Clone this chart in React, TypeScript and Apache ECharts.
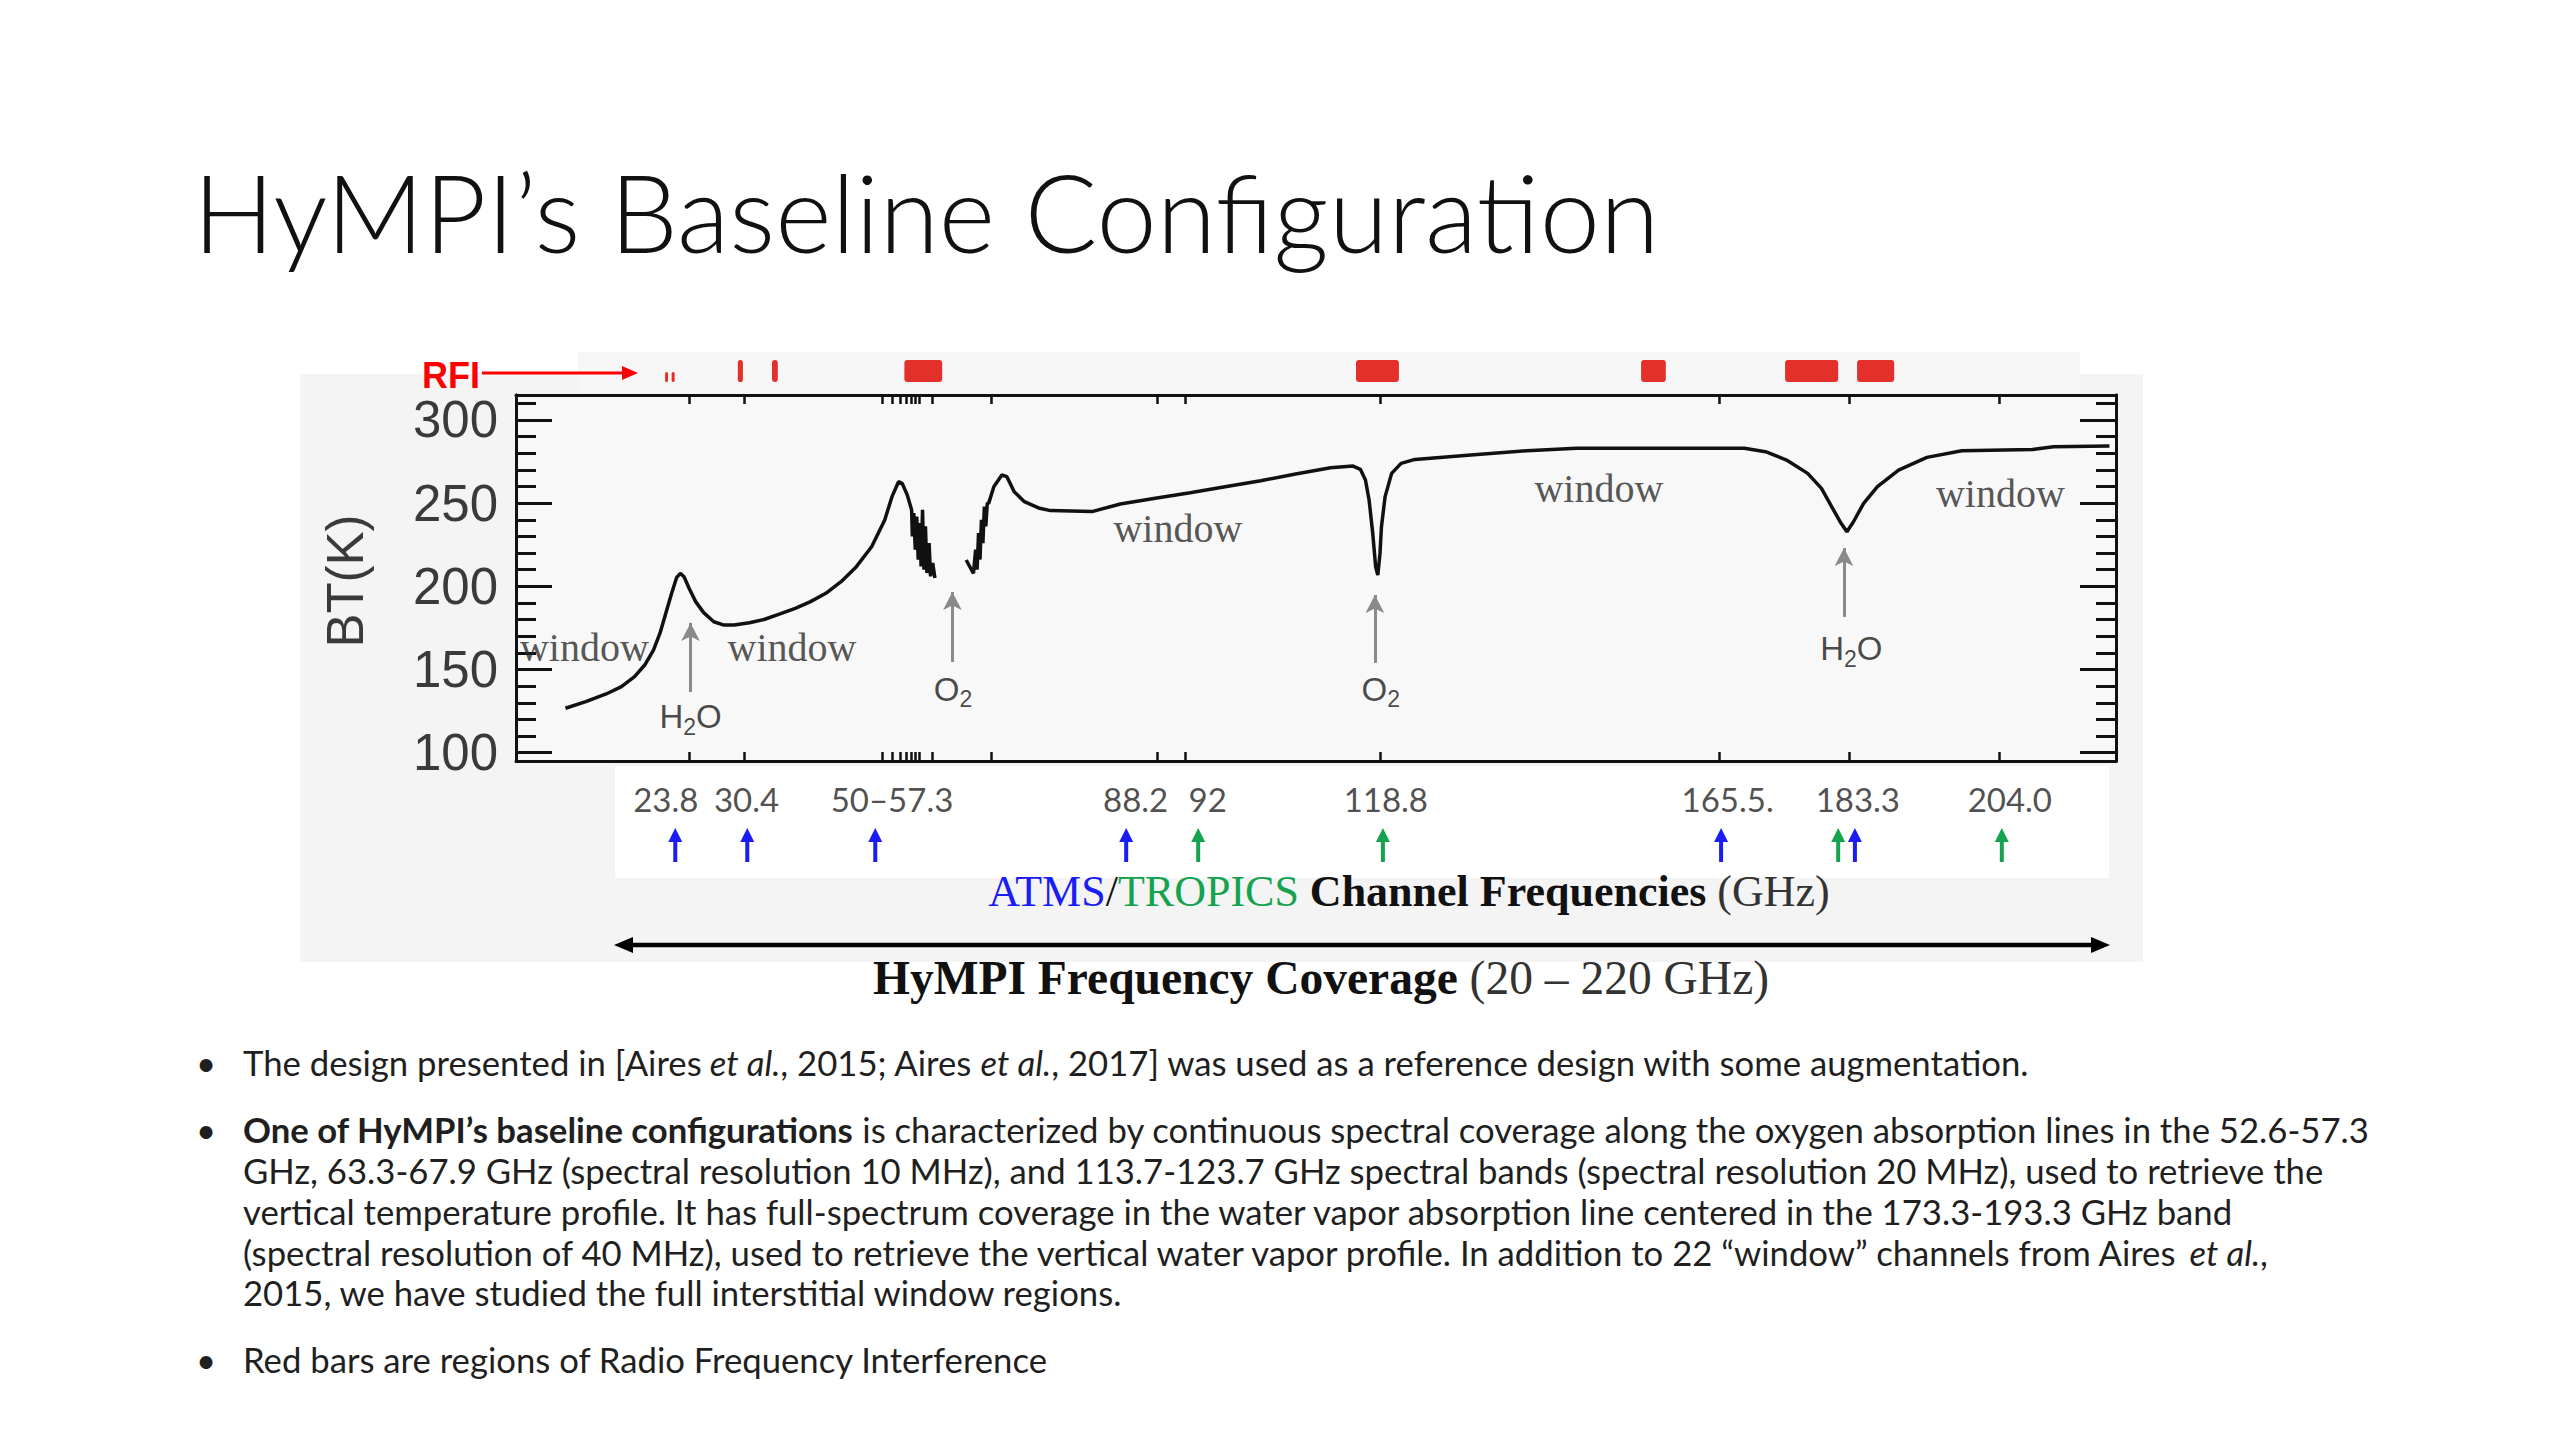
import React, { useEffect, useRef } from "react";
import * as echarts from "echarts";

// ---------- data ----------
// brightness-temperature spectrum (GHz, K); "-" = gap in the O2 band
const freqGHz = [
  6.8, 9.6, 12.4, 14.5, 16.3, 17.7, 18.9, 19.8, 20.6, 21.4, 22.1, 22.6, 23.1, 23.8, 24.7, 25.8, 27.2, 28.6, 30.0,
  32.1, 34.2, 36.3, 38.4, 40.5, 42.6, 44.7, 46.8, 48.9, 50.7, 51.7, 52.6, 53.1, 53.8, 54.4,
  54.5, 54.7, 54.9, 55.1, 55.3, 55.5, 55.7, 55.9, 56.1, 56.3, 56.5, 56.8, 57.0, 57.3, 57.6,
  59.8,
  61.9, 62.9, 63.2, 63.4, 63.6, 63.8, 64.0, 64.2, 64.4, 64.6, 64.8, 65.0, 65.7, 66.8, 67.5, 68.5, 69.9, 72.0, 73.5,
  79.2, 83.1, 87.9, 92.7, 97.5, 102.4, 107.2, 112.0, 115.1, 116.1, 116.8, 117.3, 117.8, 118.2, 118.5, 118.8,
  119.0, 119.5, 120.4, 121.7, 123.6, 131.3, 139.0, 145.8, 168.9, 171.8, 174.7, 177.6, 179.5, 180.9, 182.2,
  183.0, 183.9, 185.3, 187.2, 190.1, 194.0, 198.8, 208.5, 211.4, 219.1,
];
const btK: (number | string)[] = [
  126.7, 130.7, 135.3, 139.7, 145.7, 152.7, 161.7, 171.8, 183.8, 195.8, 205.4, 207.8, 205.8, 198.8, 190.8, 184.2,
  178.7, 176.7, 176.7, 178.1, 180.2, 183.4, 186.8, 190.8, 195.8, 202.8, 211.8, 223.8, 239.9, 253.9, 262.9, 261.9,
  254.9, 245.9,
  230, 244, 222, 242, 216, 238, 212, 246, 210, 236, 208, 226, 206, 214, 205,
  "-",
  215.8, 207.8, 222, 210, 232, 216, 240, 226, 248, 236, 250, 250, 259.9, 266.9, 265.9, 256.9, 250.9, 246.9, 245.5,
  244.9, 249.5, 252.9, 256.3, 259.9, 263.5, 267.5, 271.3, 272.3, 270.3, 263.9, 251.9, 231.9, 211.8, 206.8, 219.8,
  235.8, 253.9, 267.9, 273.9, 276.3, 278.9, 281.5, 283.0, 283.0, 280.9, 275.9, 267.9, 258.9, 247.9, 237.9,
  232.8, 238.8, 249.9, 259.9, 269.9, 277.5, 281.5, 282.3, 283.9, 284.3,
];

// frame ticks
const xTicks = [23.8, 31.4, 50.3, 51.76, 52.8, 53.596, 54.4, 54.94, 55.5, 57.29, 65.4, 88.2, 92, 118.8, 165.5, 183.3, 204];
const yMajorTicks = [100, 150, 200, 250, 300];
const yMinorTicks = [110, 120, 130, 140, 160, 170, 180, 190, 210, 220, 230, 240, 260, 270, 280, 290, 310];

// "window" annotations (GHz, K)
const windowFreq = [9.4, 37.95, 91.0, 148.9, 204.1];
const windowBT = [163.5, 163, 235, 259, 256];

// absorption-line annotations
const moleculeNames = ["H2O", "O2", "O2", "H2O"];
const moleculeFreq = [24.0, 60.1, 118.9, 183.6];
const moleculeBT = [121.5, 138, 138, 162.5];
const lineArrowFreq = [24.0, 60.0, 118.1, 182.6];
const lineArrowFrom = [136.5, 154.5, 154, 181.6];
const lineArrowTo = [178, 196.6, 194.8, 223];

// RFI bands [start GHz, end GHz, relative height]
const rfiBands = [
  [20.5, 20.9, 0.45],
  [21.4, 21.8, 0.45],
  [30.5, 31.2, 1],
  [35.2, 36.0, 1],
  [53.4, 58.6, 1],
  [115.5, 121.4, 1],
  [154.7, 158.1, 1],
  [174.5, 181.8, 1],
  [184.4, 189.5, 1],
];

// channel frequency row
const channelLabels = ["23.8", "30.4", "50–57.3", "88.2", "92", "118.8", "165.5.", "183.3", "204.0"];
const channelLabelPos = [20.6, 31.7, 51.7, 85.2, 95.1, 119.6, 166.6, 184.5, 205.4];
const atmsArrows = [21.9, 31.8, 49.4, 83.9, 165.7, 184.1];
const tropicsArrows = [93.8, 119.2, 181.8, 204.3];

const bulletLines = [
  { y: 1062, bullet: true, text: "The design presented in [Aires{i| et al.}, 2015; Aires{i| et al.}, 2017] was used as a reference design with some augmentation." },
  { y: 1129, bullet: true, text: "{b|One of HyMPI’s baseline configurations} is characterized by continuous spectral coverage along the oxygen absorption lines in the 52.6-57.3" },
  { y: 1170, bullet: false, text: "GHz, 63.3-67.9 GHz (spectral resolution 10 MHz), and 113.7-123.7 GHz spectral bands (spectral resolution 20 MHz), used to retrieve the" },
  { y: 1211, bullet: false, text: "vertical temperature profile. It has full-spectrum coverage in the water vapor absorption line centered in the 173.3-193.3 GHz band" },
  { y: 1252, bullet: false, text: "(spectral resolution of 40 MHz), used to retrieve the vertical water vapor profile. In addition to 22 “window” channels from Aires{i| et al.}," },
  { y: 1292, bullet: false, text: "2015, we have studied the full interstitial window regions." },
  { y: 1359, bullet: true, text: "Red bars are regions of Radio Frequency Interference" },
];

const ARROW_PATH = "path://M7,0 L14,14 L9,14 L9,34 L5,34 L5,14 L0,14 Z";
const BLUE = "#1c1cf5";
const GREEN = "#16a34f";
const BODY_SIZE = 34.7;

function buildOption() {
  const bodyFont = { fontFamily: "Lato", fontSize: BODY_SIZE, fill: "#1f1f1f" };
  const rich = {
    i: { fontFamily: "Lato", fontSize: BODY_SIZE, fontStyle: "italic", fill: "#1f1f1f", color: "#1f1f1f" },
    b: { fontFamily: "Lato", fontSize: BODY_SIZE, fontWeight: "bold", fill: "#1f1f1f", color: "#1f1f1f" },
  };
  const graphic: any[] = [
    { type: "rect", z: -10, silent: true, shape: { x: 300, y: 374, width: 1843, height: 588 }, style: { fill: "#f4f4f4" } },
    { type: "rect", z: -10, silent: true, shape: { x: 578, y: 352, width: 1502, height: 43 }, style: { fill: "#f6f6f6" } },
    { type: "rect", z: -9, silent: true, shape: { x: 615, y: 766, width: 1494, height: 112 }, style: { fill: "#ffffff" } },
    {
      type: "text", x: 193, y: 211,
      style: { text: "HyMPI’s Baseline Configuration", fontFamily: "Lato", fontWeight: 300, fontSize: 108, fill: "#111", verticalAlign: "middle" },
    },
    {
      type: "text", x: 345, y: 581, rotation: Math.PI / 2,
      style: { text: "BT(K)", fontFamily: "Liberation Sans", fontSize: 51, fill: "#3a3a3a", align: "center", verticalAlign: "middle" },
    },
    {
      type: "text", x: 422, y: 375,
      style: { text: "RFI", fontFamily: "Liberation Sans", fontWeight: "bold", fontSize: 36, fill: "#ff0000", verticalAlign: "middle" },
    },
    { type: "line", shape: { x1: 482, y1: 373, x2: 626, y2: 373 }, style: { stroke: "#ff0000", lineWidth: 3 } },
    { type: "polygon", shape: { points: [[622, 366], [638, 373], [622, 380]] }, style: { fill: "#ff0000" } },
    {
      type: "text", x: 1409, y: 891,
      style: {
        text: "{a|ATMS}{k|/}{t|TROPICS} {c|Channel Frequencies} {g|(GHz)}",
        align: "center", verticalAlign: "middle",
        fontFamily: "Liberation Serif", fontSize: 44, fill: "#111",
        rich: {
          a: { fontFamily: "Liberation Serif", fontSize: 44, fill: BLUE },
          k: { fontFamily: "Liberation Serif", fontSize: 44, fill: "#111" },
          t: { fontFamily: "Liberation Serif", fontSize: 44, fill: GREEN },
          c: { fontFamily: "Liberation Serif", fontSize: 44, fontWeight: "bold", fill: "#111" },
          g: { fontFamily: "Liberation Serif", fontSize: 44, fill: "#333" },
        },
      },
    },
    { type: "line", shape: { x1: 628, y1: 945, x2: 2097, y2: 945 }, style: { stroke: "#000", lineWidth: 4.5 } },
    { type: "polygon", shape: { points: [[614, 945], [633, 937], [633, 953]] }, style: { fill: "#000" } },
    { type: "polygon", shape: { points: [[2110, 945], [2091, 937], [2091, 953]] }, style: { fill: "#000" } },
    {
      type: "text", x: 1321, y: 978,
      style: {
        text: "{c|HyMPI Frequency Coverage} {g|(20 – 220 GHz)}",
        align: "center", verticalAlign: "middle",
        fontFamily: "Liberation Serif", fontSize: 47.5, fill: "#111",
        rich: {
          c: { fontFamily: "Liberation Serif", fontSize: 47.5, fontWeight: "bold", fill: "#111" },
          g: { fontFamily: "Liberation Serif", fontSize: 47.5, fill: "#333" },
        },
      },
    },
  ];
  bulletLines.forEach((l) => {
    if (l.bullet) {
      graphic.push({ type: "text", x: 196, y: l.y, style: { text: "•", ...bodyFont, verticalAlign: "middle" } });
    }
    graphic.push({ type: "text", x: 243, y: l.y, style: { text: l.text, ...bodyFont, verticalAlign: "middle", rich } });
  });

  const axisLine = { show: true, onZero: false, lineStyle: { color: "#111", width: 3 } };
  const xAxisFrame = (position: string) => ({
    gridIndex: 0, type: "value", min: 0, max: 220, position,
    axisLine,
    axisTick: { show: true, inside: true, length: 9, customValues: xTicks, lineStyle: { color: "#111", width: 2.5 } },
    axisLabel: { show: false },
    splitLine: { show: false },
  });
  const yAxisFrame = (position: string, ticks: number[], len: number, labels: boolean) => ({
    gridIndex: 0, type: "value", min: 95, max: 315, position,
    axisLine,
    axisTick: { show: true, inside: true, length: len, customValues: ticks, lineStyle: { color: "#111", width: 3 } },
    axisLabel: labels
      ? { show: true, customValues: yMajorTicks, fontFamily: "Liberation Sans", fontSize: 51, color: "#3a3a3a", margin: 18 }
      : { show: false },
    splitLine: { show: false },
  });

  const moleculeRich: Record<string, string> = { H2O: "{m|H}{s|2}{m|O}", O2: "{m|O}{s|2}" };

  return {
    animation: false,
    backgroundColor: "#ffffff",
    graphic,
    grid: [
      { left: 516, top: 395, width: 1600, height: 366, show: true, backgroundColor: "#f8f8f8", borderWidth: 0, outerBoundsMode: "none" },
      { left: 516, top: 360, width: 1600, height: 22, outerBoundsMode: "none" },
      { left: 516, top: 771, width: 1600, height: 110, outerBoundsMode: "none" },
    ],
    xAxis: [
      xAxisFrame("bottom"),
      xAxisFrame("top"),
      { gridIndex: 1, type: "value", min: 0, max: 220, show: false },
      { gridIndex: 2, type: "value", min: 0, max: 220, show: false },
    ],
    yAxis: [
      yAxisFrame("left", yMajorTicks, 36, true),
      yAxisFrame("left", yMinorTicks, 20, false),
      yAxisFrame("right", yMajorTicks, 36, false),
      yAxisFrame("right", yMinorTicks, 20, false),
      { gridIndex: 1, type: "value", min: 0, max: 1, show: false },
      { gridIndex: 2, type: "value", min: 0, max: 110, show: false },
    ],
    series: [
      {
        type: "line", name: "BT", xAxisIndex: 0, yAxisIndex: 0,
        data: freqGHz.map((f, i) => [f, btK[i]]),
        symbol: "none", showSymbol: false, connectNulls: false,
        lineStyle: { color: "#111", width: 3.5 }, z: 4,
        markLine: {
          silent: true, animation: false,
          symbol: ["none", "arrow"], symbolSize: [14, 18],
          lineStyle: { color: "#8a8a8a", width: 3, type: "solid" },
          label: { show: false },
          data: lineArrowFreq.map((f, i) => [{ coord: [f, lineArrowFrom[i]] }, { coord: [f, lineArrowTo[i]] }]),
        },
      },
      {
        type: "scatter", name: "window", xAxisIndex: 0, yAxisIndex: 0,
        data: windowFreq.map((f, i) => [f, windowBT[i]]),
        symbolSize: 0, silent: true, z: 5,
        label: { show: true, position: "inside", formatter: "window", fontFamily: "Liberation Serif", fontSize: 40, color: "#2a2a2a" },
      },
      {
        type: "scatter", name: "molecules", xAxisIndex: 0, yAxisIndex: 0,
        data: moleculeNames.map((n, i) => ({ name: n, value: [moleculeFreq[i], moleculeBT[i]] })),
        symbolSize: 0, silent: true, z: 5,
        label: {
          show: true, position: "inside",
          formatter: (p: any) => moleculeRich[p.name],
          rich: {
            m: { fontFamily: "Liberation Sans", fontSize: 33, color: "#1a1a1a" },
            s: { fontFamily: "Liberation Sans", fontSize: 23, color: "#1a1a1a", padding: [20, 0, 0, 0] },
          },
        },
      },
      {
        type: "custom", name: "RFI", xAxisIndex: 2, yAxisIndex: 4,
        data: rfiBands,
        encode: { x: [0, 1], y: 2 },
        silent: true,
        renderItem: (params: any, api: any) => {
          const p0 = api.coord([api.value(0), 0]);
          const p1 = api.coord([api.value(1), api.value(2)]);
          return {
            type: "rect",
            shape: { x: p0[0], y: p1[1], width: Math.max(3, p1[0] - p0[0]), height: p0[1] - p1[1], r: 3 },
            style: { fill: "#e3302b" },
          };
        },
      },
      {
        type: "scatter", name: "channelLabels", xAxisIndex: 3, yAxisIndex: 5,
        data: channelLabels.map((n, i) => ({ name: n, value: [channelLabelPos[i], 82] })),
        symbolSize: 0, silent: true,
        label: { show: true, position: "inside", formatter: "{b}", fontFamily: "Lato", fontSize: 33, color: "#222" },
      },
      {
        type: "scatter", name: "ATMS", xAxisIndex: 3, yAxisIndex: 5,
        data: atmsArrows.map((f) => [f, 36]),
        symbol: ARROW_PATH, symbolSize: [14, 34], silent: true,
        itemStyle: { color: BLUE, opacity: 1 },
      },
      {
        type: "scatter", name: "TROPICS", xAxisIndex: 3, yAxisIndex: 5,
        data: tropicsArrows.map((f) => [f, 36]),
        symbol: ARROW_PATH, symbolSize: [14, 34], silent: true,
        itemStyle: { color: GREEN, opacity: 1 },
      },
    ],
  };
}

export default function App() {
  const ref = useRef<HTMLDivElement>(null);
  useEffect(() => {
    if (!ref.current) return;
    const chart = echarts.init(ref.current, undefined, { renderer: "svg" });
    chart.setOption(buildOption() as any);
    return () => chart.dispose();
  }, []);
  return (
    <div
      ref={ref}
      style={{ position: "fixed", left: 0, top: 0, width: 2560, height: 1440, background: "#ffffff" }}
    />
  );
}
